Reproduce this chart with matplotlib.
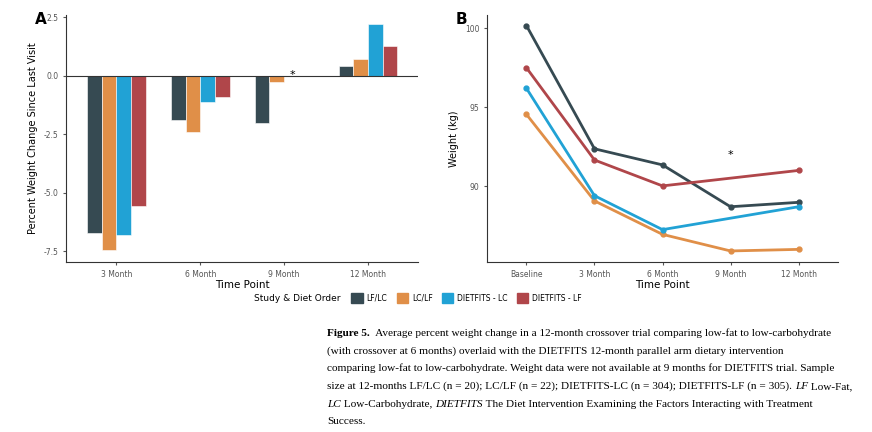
import numpy as np
import matplotlib
matplotlib.use("Agg")
import matplotlib.pyplot as plt
from matplotlib.patches import Patch

series = ["LF/LC", "LC/LF", "DIETFITS - LC", "DIETFITS - LF"]
colors = ["#364a52", "#e08f48", "#21a2d5", "#b0464a"]

# Panel A: percent change since last visit
a_cats = ["3 Month", "6 Month", "9 Month", "12 Month"]
a_vals = [
    [-6.7, -1.9, -2.0, 0.42],
    [-7.45, -2.4, -0.28, 0.7],
    [-6.8, -1.1, np.nan, 2.22],
    [-5.55, -0.92, np.nan, 1.27],
]

# Panel B: weight (kg)
b_cats = ["Baseline", "3 Month", "6 Month", "9 Month", "12 Month"]
b_vals = [
    [100.17, 92.37, 91.35, 88.7, 88.98],
    [94.55, 89.07, 86.95, 85.9, 86.0],
    [96.2, 89.4, 87.25, np.nan, 88.7],
    [97.5, 91.66, 90.02, np.nan, 91.0],
]

fig = plt.figure(figsize=(8.72, 4.32), dpi=100)
axA = fig.add_axes([0.0757, 0.3935, 0.404, 0.572])
axB = fig.add_axes([0.5585, 0.3935, 0.4025, 0.572])

gray = "#555555"
w = 0.175
x = np.arange(len(a_cats))
for i, (vals, c) in enumerate(zip(a_vals, colors)):
    axA.bar(x + (i - 1.5) * w, vals, w, color=c, edgecolor="white", linewidth=0.4)
axA.axhline(0, color="#333333", lw=0.8)
axA.text(2.1, 0.05, "*", ha="center", va="center", fontsize=8)
axA.set_xticks(x, a_cats)
axA.set_ylim(-7.95, 2.6)
axA.set_yticks([-7.5, -5, -2.5, 0, 2.5], ["-7.5", "-5.0", "-2.5", "0.0", "2.5"])
axA.set_xlim(-0.6, 3.6)
axA.set_ylabel("Percent Weight Change Since Last Visit", fontsize=7)
axA.set_xlabel("Time Point", fontsize=7.5, labelpad=1)

xb = np.arange(len(b_cats))
for vals, c in zip(b_vals, colors):
    v = np.array(vals)
    m = ~np.isnan(v)
    axB.plot(xb[m], v[m], color=c, lw=2, marker="o", ms=3.5)
axB.text(3, 92.0, "*", ha="center", va="center", fontsize=8)
axB.set_xticks(xb, b_cats)
axB.set_ylim(85.2, 100.85)
axB.set_yticks([90, 95, 100])
axB.set_xlim(-0.58, 4.58)
axB.set_ylabel("Weight (kg)", fontsize=7)
axB.set_xlabel("Time Point", fontsize=7.5, labelpad=1)

for ax in (axA, axB):
    for s in ("top", "right"):
        ax.spines[s].set_visible(False)
    for s in ("left", "bottom"):
        ax.spines[s].set_color("#333333")
    ax.tick_params(labelsize=5.5, colors=gray, length=2)
    ax.tick_params(labelcolor=gray)

fig.text(0.040, 0.955, "A", fontsize=11, fontweight="bold", va="center")
fig.text(0.522, 0.955, "B", fontsize=11, fontweight="bold", va="center")

handles = [Patch(color=c, label=s) for s, c in zip(series, colors)]
fig.legend(handles=handles, loc="center", bbox_to_anchor=(0.535, 0.31), ncol=4,
           frameon=False, fontsize=5.5, handlelength=1.5, handleheight=1.5,
           columnspacing=1.2, handletextpad=0.5)
fig.text(0.39, 0.31, "Study & Diet Order", ha="right", va="center", fontsize=6.5)

# caption
cap_lines = [
    [("Figure 5.", "bold"), ("  Average percent weight change in a 12-month crossover trial comparing low-fat to low-carbohydrate", "normal")],
    [("(with crossover at 6 months) overlaid with the DIETFITS 12-month parallel arm dietary intervention", "normal")],
    [("comparing low-fat to low-carbohydrate. Weight data were not available at 9 months for DIETFITS trial. Sample", "normal")],
    [("size at 12-months LF/LC (n = 20); LC/LF (n = 22); DIETFITS-LC (n = 304); DIETFITS-LF (n = 305). ", "normal"),
     ("LF", "italic"), (" Low-Fat,", "normal")],
    [("LC", "italic"), (" Low-Carbohydrate, ", "normal"), ("DIETFITS", "italic"),
     (" The Diet Intervention Examining the Factors Interacting with Treatment", "normal")],
    [("Success.", "normal")],
]
renderer = fig.canvas.get_renderer()
y0 = 1 - 333 / 432
dy = 17.8 / 432
for k, line in enumerate(cap_lines):
    xpos = 327 / 872
    for txt, style in line:
        kw = dict(fontsize=8.1, family="Liberation Serif", va="center", ha="left")
        if style == "bold":
            kw["fontweight"] = "bold"
        if style == "italic":
            kw["fontstyle"] = "italic"
        t = fig.text(xpos, y0 - k * dy, txt, **kw)
        bb = t.get_window_extent(renderer)
        xpos += bb.width / fig.bbox.width

fig.savefig("out.png", dpi=100)
